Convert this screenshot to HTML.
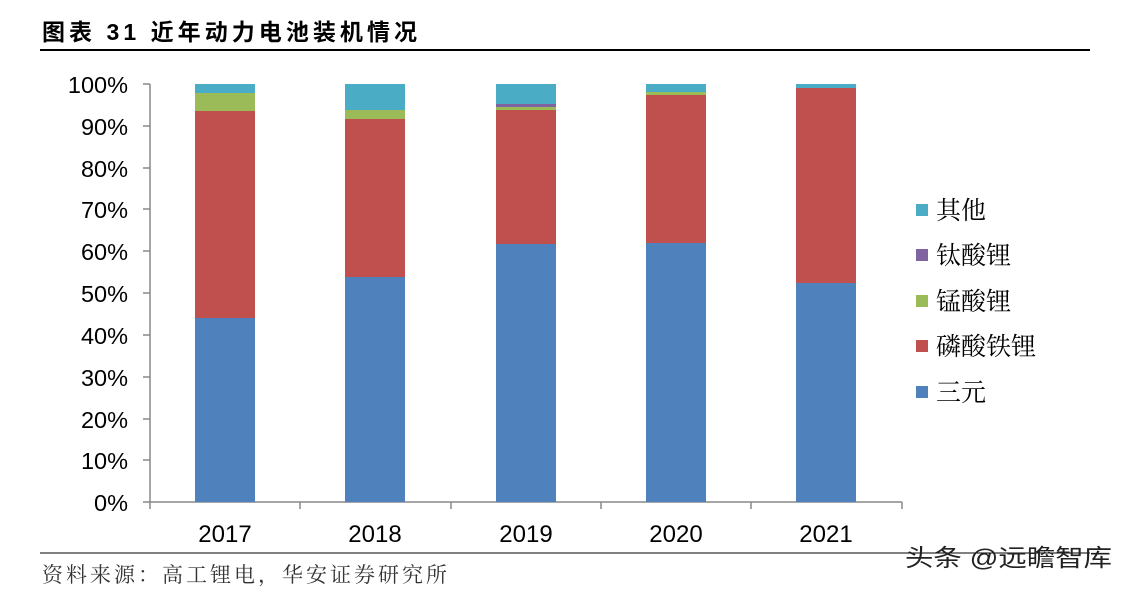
<!DOCTYPE html>
<html><head><meta charset="utf-8"><style>
body{margin:0;background:#fff;width:1130px;height:589px;overflow:hidden}
text{font-family:"Liberation Sans","Noto Sans CJK SC",sans-serif}
.s{font-family:"Liberation Serif","Noto Serif CJK SC",serif}
</style></head><body>
<svg width="1130" height="589" xmlns="http://www.w3.org/2000/svg">
<text x="42" y="40" font-size="23" font-weight="bold" fill="#000" textLength="375" lengthAdjust="spacing">图表 31 近年动力电池装机情况</text>
<line x1="40" y1="50" x2="1090" y2="50" stroke="#000" stroke-width="2"/>
<g font-size="23.5" fill="#000" text-anchor="end">
<text x="128" y="93">100%</text><text x="128" y="135">90%</text><text x="128" y="177">80%</text>
<text x="128" y="218">70%</text><text x="128" y="260">60%</text><text x="128" y="302">50%</text>
<text x="128" y="344">40%</text><text x="128" y="386">30%</text><text x="128" y="428">20%</text>
<text x="128" y="469">10%</text><text x="128" y="511">0%</text>
</g>
<g stroke="#888" stroke-width="1.5">
<line x1="150" y1="84" x2="150" y2="502"/>
<line x1="150" y1="502" x2="902" y2="502"/>
<line x1="143" y1="84" x2="150" y2="84"/><line x1="143" y1="126" x2="150" y2="126"/><line x1="143" y1="168" x2="150" y2="168"/><line x1="143" y1="209" x2="150" y2="209"/><line x1="143" y1="251" x2="150" y2="251"/><line x1="143" y1="293" x2="150" y2="293"/><line x1="143" y1="335" x2="150" y2="335"/><line x1="143" y1="377" x2="150" y2="377"/><line x1="143" y1="419" x2="150" y2="419"/><line x1="143" y1="460" x2="150" y2="460"/><line x1="143" y1="502" x2="150" y2="502"/>
<line x1="300" y1="502" x2="300" y2="509"/><line x1="451" y1="502" x2="451" y2="509"/><line x1="601" y1="502" x2="601" y2="509"/><line x1="751" y1="502" x2="751" y2="509"/><line x1="902" y1="502" x2="902" y2="509"/><line x1="150" y1="502" x2="150" y2="509"/>
</g>
<rect x="195" y="84" width="60" height="9" fill="#4bacc6"/>
<rect x="195" y="93" width="60" height="18" fill="#9bbb59"/>
<rect x="195" y="111" width="60" height="207" fill="#c0504d"/>
<rect x="195" y="318" width="60" height="184" fill="#4f81bd"/>
<rect x="345" y="84" width="60" height="26" fill="#4bacc6"/>
<rect x="345" y="110" width="60" height="9" fill="#9bbb59"/>
<rect x="345" y="119" width="60" height="158" fill="#c0504d"/>
<rect x="345" y="277" width="60" height="225" fill="#4f81bd"/>
<rect x="496" y="84" width="60" height="20" fill="#4bacc6"/>
<rect x="496" y="104" width="60" height="3" fill="#8064a2"/>
<rect x="496" y="107" width="60" height="3" fill="#9bbb59"/>
<rect x="496" y="110" width="60" height="134" fill="#c0504d"/>
<rect x="496" y="244" width="60" height="258" fill="#4f81bd"/>
<rect x="646" y="84" width="60" height="8" fill="#4bacc6"/>
<rect x="646" y="92" width="60" height="3" fill="#9bbb59"/>
<rect x="646" y="95" width="60" height="148" fill="#c0504d"/>
<rect x="646" y="243" width="60" height="259" fill="#4f81bd"/>
<rect x="796" y="84" width="60" height="4" fill="#4bacc6"/>
<rect x="796" y="88" width="60" height="195" fill="#c0504d"/>
<rect x="796" y="283" width="60" height="219" fill="#4f81bd"/>
<g font-size="24" fill="#000" text-anchor="middle">
<text x="225" y="542">2017</text><text x="375" y="542">2018</text><text x="526" y="542">2019</text><text x="676" y="542">2020</text><text x="826" y="542">2021</text>
</g>
<g font-size="25" fill="#000">
<rect x="916" y="204" width="12" height="12" fill="#4bacc6"/><text x="936" y="219" class="s">其他</text>
<rect x="916" y="249" width="12" height="12" fill="#8064a2"/><text x="936" y="264" class="s">钛酸锂</text>
<rect x="916" y="295" width="12" height="12" fill="#9bbb59"/><text x="936" y="310" class="s">锰酸锂</text>
<rect x="916" y="340" width="12" height="12" fill="#c0504d"/><text x="936" y="355" class="s">磷酸铁锂</text>
<rect x="916" y="386" width="12" height="12" fill="#4f81bd"/><text x="936" y="401" class="s">三元</text>
</g>
<line x1="40" y1="553" x2="1090" y2="553" stroke="#000" stroke-width="1"/>
<text x="42" y="582" font-size="21" fill="#333" class="s" textLength="405" lengthAdjust="spacing">资料来源：高工锂电，华安证券研究所</text>
<text x="905" y="566" font-size="24" fill="#222" textLength="207" lengthAdjust="spacingAndGlyphs">头条 @远瞻智库</text>
</svg>
</body></html>
